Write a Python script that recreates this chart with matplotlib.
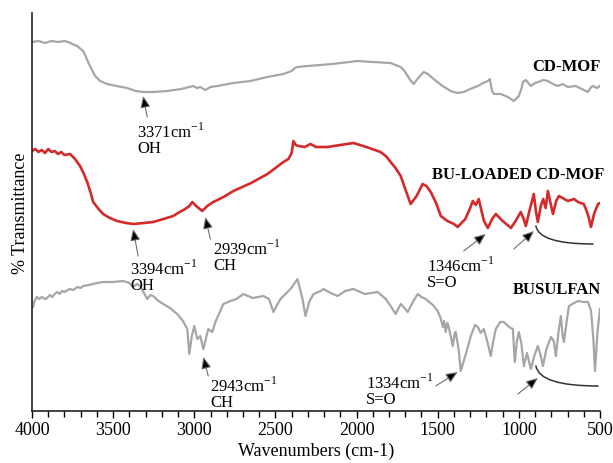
import matplotlib
matplotlib.use("Agg")
import matplotlib.pyplot as plt
from matplotlib.ticker import MultipleLocator

plt.rcParams['font.family'] = ['Liberation Serif', 'DejaVu Serif']

# FTIR spectra (wavenumber in cm-1, transmittance offset per trace, arbitrary units)
wn_cdmof = [4000, 3960, 3920, 3880, 3840, 3800, 3778, 3750, 3722, 3700, 3685, 3670,
            3654, 3630, 3611, 3580, 3537, 3480, 3414, 3360, 3315, 3250, 3167, 3080,
            3006, 2985, 2963, 2932, 2900, 2858, 2760, 2654, 2550, 2451, 2400, 2380,
            2364, 2300, 2150, 1994, 1900, 1790, 1760, 1728, 1705, 1685, 1665, 1648,
            1620, 1586, 1560, 1525, 1470, 1420, 1380, 1340, 1300, 1253, 1220, 1191,
            1179, 1165, 1154, 1111, 1068, 1031, 1000, 985, 975, 957, 926, 900, 880,
            850, 821, 790, 760, 730, 698, 650, 600, 574, 555, 543, 520, 500]
t_cdmof = [369, 370, 368, 370, 369, 370, 369, 367, 365, 362, 360, 355,
           349, 341, 335, 330, 327, 325, 323, 320, 319, 319, 320, 322,
           325, 323, 324, 321, 324, 325, 328, 330, 334, 337, 340, 343,
           344, 345, 347, 350, 349, 348, 346, 344, 340, 335, 330, 327,
           333, 339, 337, 332, 325, 320, 318, 319, 322, 325, 328, 330,
           332, 320, 317, 317, 314, 310, 315, 322, 329, 331, 325, 328, 329,
           331, 330, 327, 325, 327, 324, 325, 321, 319, 324, 325, 323, 325]

wn_loaded = [4000, 3980, 3960, 3940, 3920, 3900, 3880, 3860, 3840, 3820, 3800, 3765,
             3735, 3704, 3680, 3660, 3640, 3623, 3590, 3562, 3520, 3476, 3420, 3376,
             3310, 3253, 3190, 3130, 3090, 3056, 3030, 3012, 2995, 2981, 2951, 2920,
             2883, 2820, 2759, 2650, 2549, 2500, 2451, 2420, 2400, 2389, 2375, 2358,
             2320, 2284, 2250, 2179, 2100, 2019, 1940, 1852, 1820, 1790, 1760, 1728,
             1700, 1667, 1630, 1593, 1570, 1543, 1510, 1481, 1440, 1400, 1377, 1330,
             1300, 1284, 1265, 1247, 1230, 1215, 1191, 1165, 1142, 1100, 1070, 1049,
             1020, 988, 970, 957, 935, 908, 895, 883, 865, 850, 835, 821, 805, 790,
             770, 753, 720, 698, 660, 636, 600, 587, 570, 556, 535, 512, 500]
t_loaded = [260, 262, 259, 261, 258, 262, 259, 260, 257, 259, 256, 257,
            252, 245, 237, 229, 219, 209, 202, 197, 193, 190, 188, 187,
            188, 189, 192, 195, 199, 202, 205, 209, 206, 204, 200, 205,
            209, 214, 220, 228, 237, 243, 249, 252, 258, 270, 266, 265,
            264, 267, 264, 264, 266, 268, 264, 259, 255, 249, 243, 235,
            222, 207, 215, 227, 225, 219, 208, 195, 190, 187, 184, 192,
            203, 210, 206, 212, 200, 190, 183, 192, 197, 190, 186, 183,
            190, 199, 192, 185, 200, 217, 200, 189, 205, 212, 203, 220, 208, 197,
            210, 215, 212, 210, 212, 209, 207, 202, 194, 184, 198, 207, 208]

wn_busulfan = [3994, 3985, 3970, 3955, 3940, 3920, 3907, 3890, 3875, 3860, 3846, 3830,
               3815, 3800, 3780, 3765, 3745, 3720, 3700, 3685, 3650, 3600, 3562, 3500,
               3438, 3400, 3377, 3355, 3333, 3310, 3290, 3270, 3253, 3220, 3191, 3150,
               3105, 3070, 3043, 3031, 3015, 3000, 2981, 2963, 2944, 2914, 2889, 2870,
               2821, 2778, 2740, 2698, 2640, 2574, 2540, 2512, 2490, 2469, 2407, 2364,
               2345, 2333, 2315, 2290, 2265, 2222, 2204, 2160, 2117, 2070, 2019, 1950,
               1870, 1820, 1790, 1759, 1740, 1728, 1705, 1685, 1650, 1623, 1600, 1574,
               1530, 1500, 1480, 1469, 1460, 1451, 1440, 1432, 1420, 1407, 1395, 1389,
               1370, 1358, 1330, 1296, 1270, 1253, 1235, 1216, 1195, 1173, 1160, 1142,
               1115, 1093, 1060, 1037, 1025, 1012, 1000, 985, 969, 950, 926, 905, 883,
               865, 852, 830, 802, 785, 772, 755, 741, 730, 722, 705, 691, 660, 636,
               600, 574, 555, 540, 531, 515, 500]
t_busulfan = [104, 110, 114, 112, 114, 112, 113, 116, 114, 117, 119, 117,
              120, 119, 121, 122, 121, 124, 123, 125, 126, 128, 129, 129,
              130, 128, 124, 127, 125, 118, 112, 116, 115, 110, 107, 103,
              97, 90, 82, 57, 75, 85, 72, 75, 62, 82, 79, 89,
              107, 110, 112, 117, 113, 115, 112, 99, 106, 112, 122, 132,
              120, 112, 95, 110, 117, 120, 122, 118, 115, 120, 122, 117,
              119, 112, 105, 97, 103, 107, 103, 99, 110, 117, 114, 112,
              106, 100, 92, 84, 90, 79, 88, 84, 75, 65, 78, 79,
              60, 40, 55, 75, 86, 84, 78, 82, 70, 55, 68, 82,
              89, 89, 84, 82, 49, 70, 79, 68, 45, 58, 42, 55, 65,
              55, 45, 62, 74, 70, 55, 80, 95, 75, 69, 90, 105, 108, 110,
              109, 109, 100, 70, 40, 80, 102]

# peak annotations: (text, arrow tip, arrow tail, text position)
peak_labels = ["3371cm$^{\\mathregular{-1}}$\nOH", "3394cm$^{\\mathregular{-1}}$\nOH",
               "2939cm$^{\\mathregular{-1}}$\nCH", "2943cm$^{\\mathregular{-1}}$\nCH",
               "1346cm$^{\\mathregular{-1}}$\nS=O", "1334cm$^{\\mathregular{-1}}$\nS=O"]
peak_tips = [(3315, 315), (3377, 182), (2932, 194), (2944, 54), (1204, 177), (1377, 39)]
peak_tails = [(3290, 294), (3346, 155), (2901, 172), (2914, 35), (1340, 160), (1512, 25)]
peak_text = [(3352, 290), (3395, 153), (2883, 173), (2901, 36), (1568, 156), (1944, 39)]

# unlabeled arrows and the curved brackets in the fingerprint region
extra_tips = [(907, 180), (883, 33)]
extra_tails = [(1031, 162), (1006, 17)]
bracket_start = [(895, 185), (895, 45)]
bracket_end = [(543, 167), (512, 25)]

fig = plt.figure(figsize=(6.13, 4.64), dpi=100)
ax = fig.add_axes([32 / 613, 52 / 464, 568 / 613, 398 / 464])

gray = '#a6a6a6'
ax.plot(wn_cdmof, t_cdmof, color=gray, lw=1.6)
ax.plot(wn_loaded, t_loaded, color='#d42a2a', lw=1.9)
ax.plot(wn_busulfan, t_busulfan, color=gray, lw=1.6)

ax.text(494, 345, 'CD-MOF', ha='right', va='center', fontsize=12, fontweight='bold')
ax.text(475, 237, 'BU-LOADED CD-MOF', ha='right', va='center', fontsize=12, fontweight='bold')
ax.text(494, 122, 'BUSULFAN', ha='right', va='center', fontsize=12, fontweight='bold')

arrow_kw = dict(arrowstyle='-|>,head_length=0.7,head_width=0.3', fc='black',
                ec='#6e6e6e', lw=0.8, shrinkA=0, shrinkB=0)
for label, tip, tail, pos in zip(peak_labels, peak_tips, peak_tails, peak_text):
    ax.annotate('', xy=tip, xytext=tail, arrowprops=arrow_kw)
    ax.text(pos[0], pos[1], label, ha='left', va='top', fontsize=12, linespacing=0.95)
for tip, tail in zip(extra_tips, extra_tails):
    ax.annotate('', xy=tip, xytext=tail, arrowprops=arrow_kw)
for p0, p1 in zip(bracket_start, bracket_end):
    ax.annotate('', xy=p1, xytext=p0,
                arrowprops=dict(arrowstyle='-', color='#333333', lw=1.1,
                                shrinkA=0, shrinkB=0,
                                connectionstyle='angle3,angleA=100,angleB=0'))

ax.set_xlim(4000, 500)
ax.set_ylim(0, 398)
ax.xaxis.set_major_locator(MultipleLocator(500))
ax.xaxis.set_minor_locator(MultipleLocator(100))
ax.tick_params(axis='x', which='major', direction='out', length=5, width=1,
               labelsize=13, pad=2)
ax.tick_params(axis='x', which='minor', direction='out', length=4, width=1)
ax.set_yticks([])
for side in ('top', 'right'):
    ax.spines[side].set_visible(False)
for side in ('left', 'bottom'):
    ax.spines[side].set_linewidth(1.2)
    ax.spines[side].set_color('#222222')

ax.set_xlabel('Wavenumbers (cm-1)', fontsize=13, labelpad=3)
ax.set_ylabel('% Transmittance', fontsize=13, labelpad=2)

fig.savefig('out.png', dpi=100)
